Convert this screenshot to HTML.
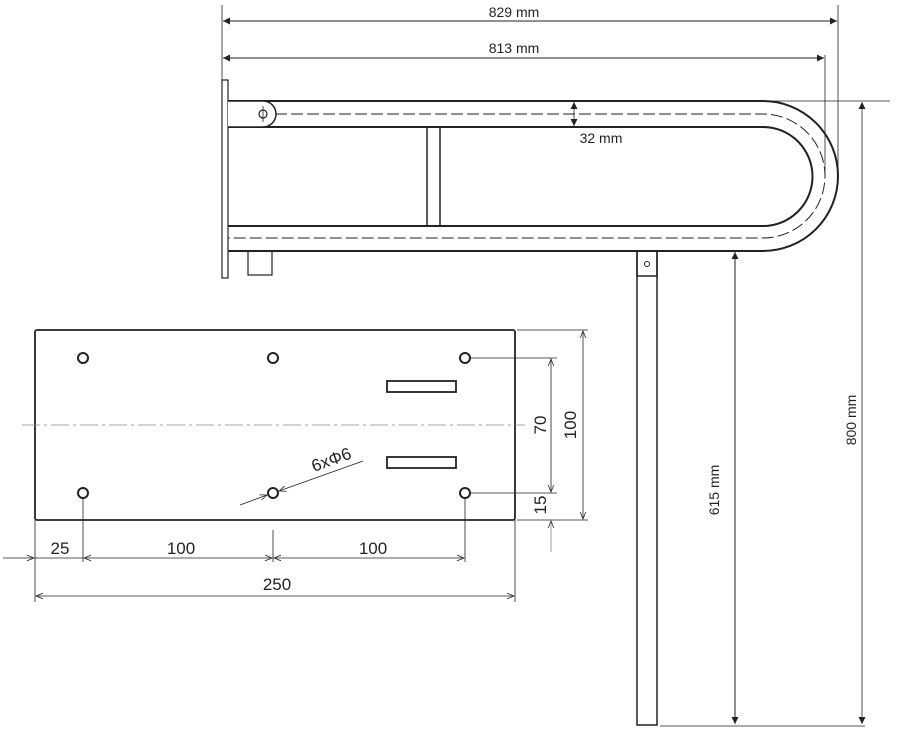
<!DOCTYPE html>
<html><head><meta charset="utf-8"><style>
html,body{margin:0;padding:0;background:#fff;}
svg{display:block;}
text{font-family:"Liberation Sans",sans-serif;fill:#222;}
</style></head><body>
<svg width="897" height="733" viewBox="0 0 897 733" xmlns="http://www.w3.org/2000/svg">
<defs>
<marker id="a" viewBox="0 0 10 10" refX="10" refY="5" markerWidth="10" markerHeight="7" orient="auto-start-reverse" markerUnits="userSpaceOnUse"><path d="M0,0 L10,5 L0,10 z" fill="#222"/></marker>
<marker id="o" viewBox="0 0 10 10" refX="10" refY="5" markerWidth="12" markerHeight="7" orient="auto-start-reverse" markerUnits="userSpaceOnUse"><path d="M0,1 L10,5 L0,9" fill="none" stroke="#333" stroke-width="1.2"/></marker>
</defs>
<g stroke="#222" fill="none">
<line x1="222" y1="5" x2="222" y2="95" stroke-width="0.8"/>
<line x1="838" y1="5" x2="838" y2="176" stroke-width="0.8"/>
<line x1="825" y1="55" x2="825" y2="176" stroke-width="0.8"/>
<line x1="223" y1="21" x2="837" y2="21" stroke-width="1" marker-start="url(#a)" marker-end="url(#a)"/>
<line x1="223" y1="58" x2="824" y2="58" stroke-width="1" marker-start="url(#a)" marker-end="url(#a)"/>
<rect x="222" y="80" width="6" height="198" stroke-width="1.2"/>
<path d="M228,101 H763 A75,75 0 0 1 763,251 H228" stroke-width="2"/>
<path d="M228,127 H763 A49,49 0 0 1 763,226 H228" stroke-width="2"/>
<path d="M275,114 H763 A62,62 0 0 1 763,238 H228" stroke-width="1" stroke-dasharray="12,4" />
<path d="M228,101 H263 A13,13 0 0 1 263,127 H228" stroke-width="1.5" fill="#fff"/>
<circle cx="263" cy="114" r="4" stroke-width="1.2"/>
<line x1="263" y1="106" x2="263" y2="122" stroke-width="0.8"/>
<rect x="427" y="127" width="13" height="99" stroke-width="1.5"/>
<rect x="248" y="251" width="24" height="24" stroke-width="1.2"/>
<line x1="574" y1="102" x2="574" y2="126" stroke-width="0.8" marker-start="url(#a)" marker-end="url(#a)"/>
<rect x="637" y="251" width="20" height="474" stroke-width="1.5"/>
<rect x="637" y="251" width="20" height="25" stroke-width="1.5"/>
<circle cx="647" cy="264" r="2.5" stroke-width="1"/>
<line x1="760" y1="101" x2="890" y2="101" stroke-width="0.7"/>
<line x1="660" y1="726" x2="865" y2="726" stroke-width="0.7"/>
<line x1="735" y1="252" x2="735" y2="724" stroke-width="1" marker-start="url(#a)" marker-end="url(#a)"/>
<line x1="862" y1="102" x2="862" y2="724" stroke-width="0.8" marker-start="url(#a)" marker-end="url(#a)"/>
<rect x="35" y="330" width="480" height="190" rx="2" stroke-width="1.8"/>
<g stroke-width="2">
<circle cx="83" cy="358" r="5"/><circle cx="273" cy="358" r="5"/><circle cx="465" cy="358" r="5"/>
<circle cx="83" cy="493" r="5"/><circle cx="273" cy="493" r="5"/><circle cx="465" cy="493" r="5"/>
<rect x="387" y="381" width="69" height="11" stroke-width="1.8"/><rect x="387" y="457" width="69" height="11" stroke-width="1.8"/>
</g>
<line x1="22" y1="425" x2="525" y2="425" stroke="#888" stroke-width="0.8" stroke-dasharray="18,4,3,4"/>
<line x1="470" y1="358" x2="557" y2="358" stroke-width="0.8"/>
<line x1="470" y1="493" x2="557" y2="493" stroke-width="0.8"/>
<line x1="517" y1="330" x2="588" y2="330" stroke-width="0.8"/>
<line x1="517" y1="520" x2="588" y2="520" stroke-width="0.8"/>
<line x1="551" y1="359" x2="551" y2="492" stroke-width="0.8" marker-start="url(#o)" marker-end="url(#o)"/>
<line x1="583" y1="331" x2="583" y2="519" stroke-width="0.8" marker-start="url(#o)" marker-end="url(#o)"/>
<line x1="551" y1="521" x2="551" y2="552" stroke="#888" stroke-width="0.8" marker-start="url(#o)"/>
<line x1="83" y1="498" x2="83" y2="562" stroke-width="0.8"/>
<line x1="273" y1="530" x2="273" y2="562" stroke-width="0.8"/>
<line x1="465" y1="498" x2="465" y2="562" stroke-width="0.8"/>
<line x1="35" y1="520" x2="35" y2="602" stroke-width="0.8"/>
<line x1="515" y1="520" x2="515" y2="602" stroke-width="0.8"/>
<line x1="3" y1="558" x2="34" y2="558" stroke-width="0.8" marker-end="url(#o)"/>
<line x1="35" y1="558" x2="83" y2="558" stroke-width="0.8"/>
<line x1="84" y1="558" x2="272" y2="558" stroke-width="0.8" marker-start="url(#o)" marker-end="url(#o)"/>
<line x1="274" y1="558" x2="464" y2="558" stroke-width="0.8" marker-start="url(#o)" marker-end="url(#o)"/>
<line x1="36" y1="596" x2="514" y2="596" stroke-width="0.8" marker-start="url(#o)" marker-end="url(#o)"/>
<line x1="363" y1="461" x2="279" y2="491" stroke-width="0.8" marker-end="url(#o)"/>
<line x1="240" y1="505" x2="267" y2="495" stroke-width="0.8" marker-end="url(#o)"/>
</g>
<g font-size="14">
<text x="514" y="17" text-anchor="middle">829 mm</text>
<text x="514" y="53" text-anchor="middle">813 mm</text>
<text x="601" y="143" text-anchor="middle">32 mm</text>
<text transform="translate(719,490) rotate(-90)" text-anchor="middle">615 mm</text>
<text transform="translate(856,420) rotate(-90)" text-anchor="middle">800 mm</text>
</g>
<g font-size="17" fill="#333">
<text x="60" y="554" text-anchor="middle">25</text>
<text x="181" y="554" text-anchor="middle">100</text>
<text x="373" y="554" text-anchor="middle">100</text>
<text x="277" y="590" text-anchor="middle">250</text>
<text transform="translate(546,425) rotate(-90)" text-anchor="middle">70</text>
<text transform="translate(576,425) rotate(-90)" text-anchor="middle">100</text>
<text transform="translate(546,505) rotate(-90)" text-anchor="middle">15</text>
<text transform="translate(314,472) rotate(-20)">6xΦ6</text>
</g>
</svg>
</body></html>
